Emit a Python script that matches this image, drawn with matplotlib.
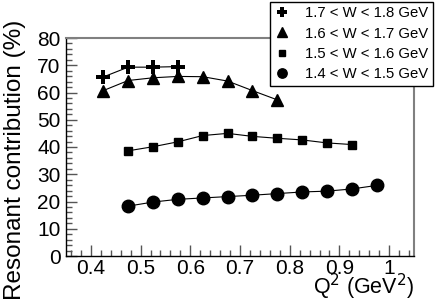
import numpy as np
import matplotlib.pyplot as plt
from matplotlib.ticker import MultipleLocator

plt.rcParams['font.family'] = ['Liberation Sans', 'DejaVu Sans']

# Q^2 bins (GeV^2) and resonant contribution (%) for each W bin
q2_w17 = [0.425, 0.475, 0.525, 0.575]
res_w17 = [65.7, 69.3, 69.3, 69.5]

q2_w16 = [0.425, 0.475, 0.525, 0.575, 0.625, 0.675, 0.725, 0.775]
res_w16 = [60.7, 64.4, 65.4, 65.9, 65.8, 64.2, 60.7, 57.3]

q2_w15 = [0.475, 0.525, 0.575, 0.625, 0.675, 0.725, 0.775, 0.825, 0.875, 0.925]
res_w15 = [38.6, 40.1, 41.9, 44.2, 45.0, 43.9, 43.2, 42.6, 41.5, 40.9]

q2_w14 = [0.475, 0.525, 0.575, 0.625, 0.675, 0.725, 0.775, 0.825, 0.875, 0.925, 0.975]
res_w14 = [18.3, 19.8, 20.8, 21.3, 21.8, 22.3, 22.9, 23.5, 23.8, 24.6, 25.9]

labels = ["1.7 < W < 1.8 GeV", "1.6 < W < 1.7 GeV",
          "1.5 < W < 1.6 GeV", "1.4 < W < 1.5 GeV"]

fig = plt.figure(figsize=(4.36, 3.02), dpi=100)
ax = fig.add_axes([66/436, 46/302, 348/436, 218/302])

line_kw = dict(color="black", lw=0.8)
ax.plot(q2_w17, res_w17, marker="P", ms=10, mew=0, label=labels[0], **line_kw)
ax.plot(q2_w16, res_w16, marker="^", ms=9, label=labels[1], **line_kw)
ax.plot(q2_w15, res_w15, marker="s", ms=6, label=labels[2], **line_kw)
ax.plot(q2_w14, res_w14, marker="o", ms=9, label=labels[3], **line_kw)

ax.set_xlim(0.35, 1.05)
ax.set_ylim(0, 80)
ax.xaxis.set_minor_locator(MultipleLocator(0.02))
ax.yaxis.set_major_locator(MultipleLocator(10))
ax.yaxis.set_minor_locator(MultipleLocator(2))
ax.set_xticks(np.arange(0.4, 1.01, 0.1))
ax.set_xticklabels(["0.4", "0.5", "0.6", "0.7", "0.8", "0.9", "1"])
ax.tick_params(which="both", direction="in", labelsize=15, color="#555555")
ax.tick_params(which="major", length=8, width=1)
ax.tick_params(which="minor", length=4, width=1)
ax.tick_params(axis="x", pad=2.5)
ax.tick_params(axis="y", pad=4)

for s in ["top", "right"]:
    ax.spines[s].set_color("#808080")
    ax.spines[s].set_linewidth(1.5)
for s in ["left", "bottom"]:
    ax.spines[s].set_color("black")
    ax.spines[s].set_linewidth(1)

ax.set_xlabel("Q$^2$ (GeV$^2$)", fontsize=15.5, ha="right", va="baseline")
ax.xaxis.set_label_coords(1.0, -0.176)

fig.text(15/436, 2/302, "Resonant contribution (%)", rotation=90,
         ha="center", va="bottom", fontsize=17.5)

leg = ax.legend(loc="upper right", bbox_to_anchor=(433/436, 1 - 2/302),
                bbox_transform=fig.transFigure, fontsize=10.7, frameon=True,
                fancybox=False, framealpha=1, edgecolor="black",
                handlelength=1.0, handletextpad=1.1, labelspacing=0.42,
                borderpad=0.3, borderaxespad=0, markerscale=0.75)
for h in leg.get_lines():
    h.set_linestyle("none")
leg.get_frame().set_linewidth(1)

fig.savefig("out.png", dpi=100)
